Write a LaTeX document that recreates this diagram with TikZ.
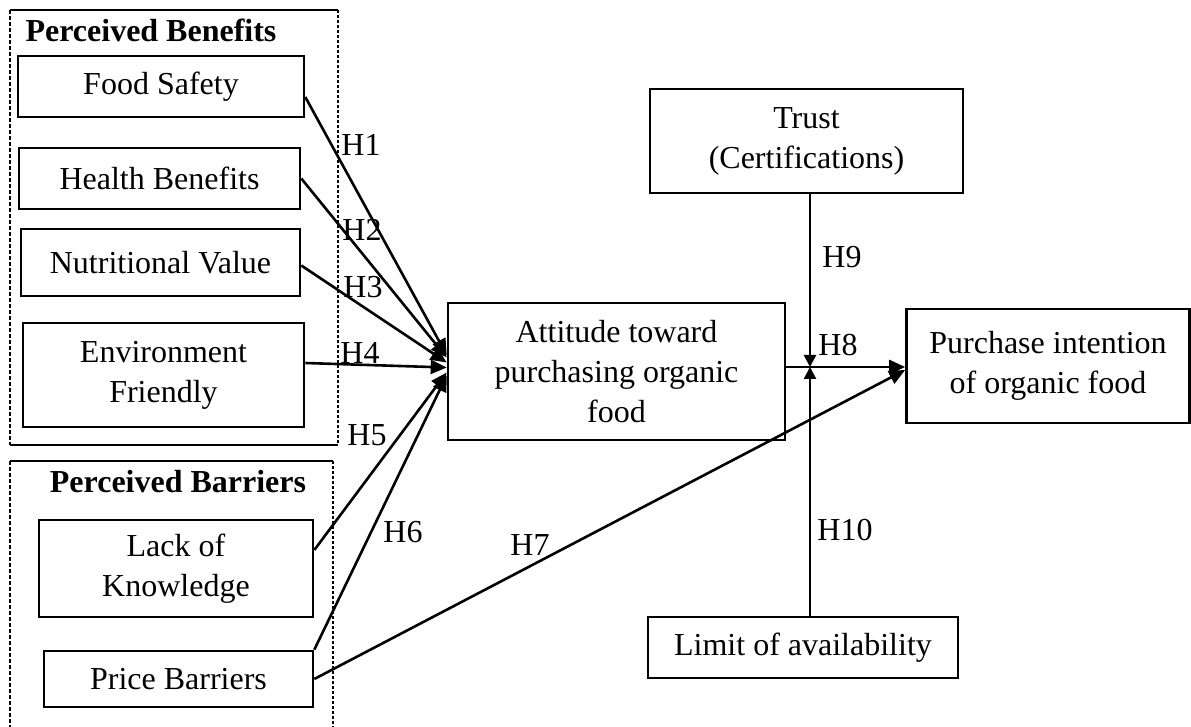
\documentclass[tikz,border=0pt]{standalone}
\usepackage{fontspec}
\setmainfont{Liberation Serif}
\usetikzlibrary{arrows.meta,calc}
\begin{document}
\begin{tikzpicture}[x=0.5pt,y=-0.5pt,
  every node/.style={font=\fontsize{16}{20}\selectfont},
  box/.style={draw,line width=1.3pt,align=center,inner sep=0pt},
  lbl/.style={inner sep=0pt},
  conn/.style={line width=1.3pt,-{Triangle[length=8pt,width=7pt]}},
  small/.style={line width=1.3pt,-{Triangle[length=6pt,width=6pt]}},
  grouptop/.style={line width=1.3pt},
  groupside/.style={line width=0.6pt,dash pattern=on 2pt off 1pt},
  groupright/.style={line width=1.1pt,dash pattern=on 1.5pt off 1pt}]
\useasboundingbox (0,0) rectangle (1191,727);
% group frames
\draw[grouptop] (10,10) -- (338,10);
\draw[grouptop] (10,445) -- (338,445);
\draw[groupside] (10,10) -- (10,445);
\draw[groupright] (338,10) -- (338,445);
\draw[grouptop] (10,461) -- (333,461);
\draw[groupside] (10,461) -- (10,727);
\draw[groupright] (333,461) -- (333,727);
\node[lbl,font=\fontsize{16}{20}\selectfont\bfseries] (hben) at (151,30) {Perceived Benefits};
\node[lbl,font=\fontsize{16}{20}\selectfont\bfseries] (hbar) at (178,482) {Perceived Barriers};
% boxes
\node[box,minimum width=143pt,minimum height=30.5pt] (fs) at (161,86.5) {Food Safety};
\node[box,minimum width=140.5pt,minimum height=30.5pt] (hb) at (159.5,178.5) {Health Benefits};
\node[box,minimum width=139.5pt,minimum height=33.5pt] (nv) at (160.5,262.5) {Nutritional Value};
\node[box,minimum width=140.5pt,minimum height=52pt] (ef) at (163.5,375) {Environment\\Friendly};
\node[box,minimum width=137pt,minimum height=48.5pt] (lk) at (176,568.5) {Lack of\\Knowledge};
\node[box,minimum width=134.5pt,minimum height=28pt] (pb) at (178.5,679) {Price Barriers};
\node[box,minimum width=168.5pt,minimum height=68.5pt] (att) at (616.5,371.5) {Attitude toward\\purchasing organic\\food};
\node[box,minimum width=156.5pt,minimum height=52pt] (tr) at (806.5,141) {Trust\\(Certifications)};
\node[box,minimum width=141.5pt,minimum height=57pt] (pur) at (1048,366) {Purchase intention\\of organic food};
\node[box,minimum width=155pt,minimum height=30.5pt] (lim) at (803,647.5) {Limit of availability};
% junction
\coordinate (j) at (810,367);
% connectors to attitude
\draw[conn] ($(fs.east)+(0,10.5)$) -- ($(att.west)+(0,-16.5)$);
\draw[conn] (hb.east) -- ($(att.west)+(0,-14)$);
\draw[conn] ($(nv.east)+(0,3)$) -- ($(att.west)+(0,-9)$);
\draw[conn] ($(ef.east)+(0,-12)$) -- ($(att.west)+(0,-4)$);
\draw[conn] ($(lk.east)+(0,-18.5)$) -- ($(att.west)+(0,1)$);
\draw[conn] (pb.north east) -- ($(att.west)+(0,4)$);
\draw[conn] (pb.east) -- ($(pur.west)+(0,4)$);
\draw[conn] (att.east |- j) -- (pur.west |- j);
\draw[small] (j |- tr.south) -- (j);
\draw[small] (j |- lim.north) -- (j);
% labels
\node[lbl] (h1) at (361,145) {H1};
\node[lbl] (h2) at (362,230) {H2};
\node[lbl] (h3) at (363,287) {H3};
\node[lbl] (h4) at (360,353) {H4};
\node[lbl] (h5) at (367,435) {H5};
\node[lbl] (h6) at (403,532) {H6};
\node[lbl] (h7) at (530,545) {H7};
\node[lbl] (h8) at (838,345) {H8};
\node[lbl] (h9) at (842,257) {H9};
\node[lbl] (h10) at (845,530) {H10};
\end{tikzpicture}
\end{document}
